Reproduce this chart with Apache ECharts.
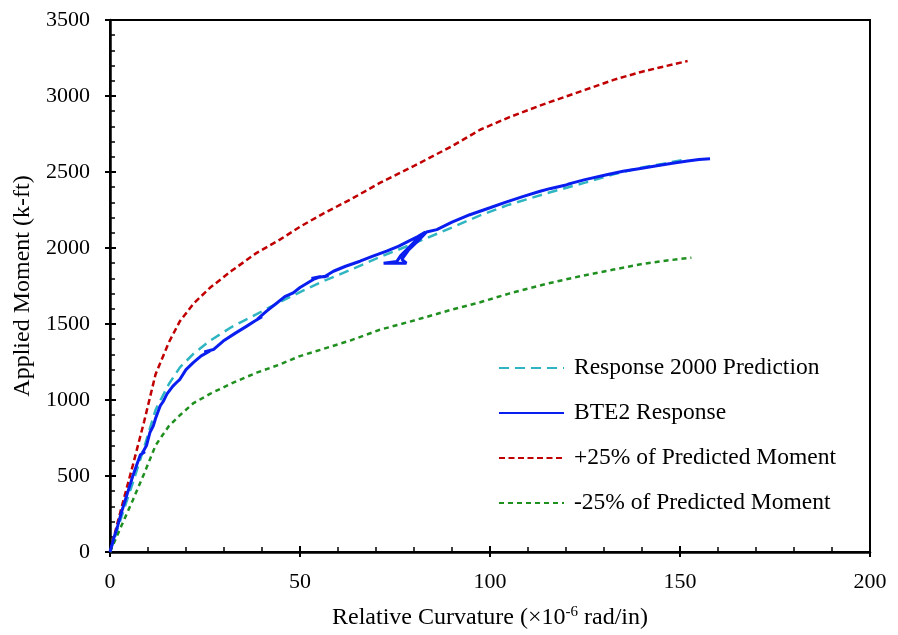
<!DOCTYPE html>
<html>
<head>
<meta charset="utf-8">
<script src="https://cdn.jsdelivr.net/npm/echarts@6/dist/echarts.min.js"></script>
<style>
  html, body { margin: 0; padding: 0; background: #fff; }
  #chart { width: 898px; height: 635px; }
</style>
</head>
<body>
<div id="chart"></div>
<script>
// 曲率 (×10^-6 rad/in) 与弯矩 (k-ft)
const X_TICKS = [0, 50, 100, 150, 200];
const Y_TICKS = [0, 500, 1000, 1500, 2000, 2500, 3000, 3500];

const SERIES_NAMES = [
  "Response 2000 Prediction",
  "BTE2 Response",
  "+25% of Predicted Moment",
  "-25% of Predicted Moment",
];

// Response 2000 预测
const predicted = [
  [0, 0], [3, 230], [6, 455], [9, 690], [12, 935], [13, 985], [15.5, 1105],
  [18.4, 1215], [22, 1305], [26.3, 1390], [32, 1480], [38.6, 1565],
  [44.7, 1645], [50, 1710], [56, 1780], [63.2, 1855], [71, 1940],
  [80, 2030], [90, 2135], [97.4, 2215], [105, 2285], [114.9, 2360],
  [125, 2430], [132.5, 2485], [140, 2530], [145.6, 2555], [152, 2585],
];

// 试验实测（含卸载/再加载小回环）
const measured = [
  [0, 0], [1, 90], [2, 170], [3, 260], [4, 340], [5, 420], [6, 500],
  [7, 570], [8, 640], [9.2, 660], [8.6, 655], [9.6, 700], [10.5, 786],
  [11.4, 830], [12, 880], [13.2, 961], [14, 990], [15, 1040], [16.5, 1090],
  [17.5, 1115], [18.4, 1136], [20, 1200], [21.9, 1246], [24, 1290],
  [26.3, 1322], [24.8, 1316], [27.2, 1332], [29.8, 1388], [33, 1440],
  [36, 1486], [38, 1518], [40, 1548], [38.8, 1532], [41.2, 1585],
  [44, 1640], [46, 1680], [48.2, 1705], [50, 1740], [53.5, 1793],
  [55.5, 1812], [53, 1800], [57.5, 1818], [56.2, 1808], [58.8, 1847],
  [62, 1880], [65.8, 1913], [69, 1945], [72.8, 1979], [76, 2012],
  [79, 2050], [81, 2075], [83, 2105], [80.5, 2050], [78.5, 2000],
  [76.5, 1950], [75.5, 1912], [72, 1900], [78, 1900], [76.8, 1925],
  [78.5, 1985], [81.2, 2050], [83.3, 2105], [86, 2121], [90, 2170],
  [94.7, 2219], [100, 2265], [104, 2300], [108.8, 2340], [113.2, 2373],
  [116, 2392], [120, 2415], [121.5, 2425], [120.5, 2420], [125, 2450],
  [130.7, 2482], [135, 2505], [140, 2525], [143.9, 2541], [148, 2558],
  [152, 2572], [155, 2582], [157.9, 2587],
];

// +25% 预测弯矩
const upper = [
  [0, 0], [3, 290], [6, 570], [9, 860], [12, 1170], [13, 1230], [15.5, 1380],
  [18.4, 1519], [22, 1635], [26.3, 1738], [32, 1850], [38.6, 1968],
  [44.7, 2055], [50, 2140], [56, 2225], [63.2, 2318], [71, 2428],
  [80, 2540], [90, 2670], [97.4, 2778], [105, 2860], [114.9, 2953],
  [125, 3040], [132.5, 3106], [140, 3160], [145.6, 3193], [152, 3230],
];

// -25% 预测弯矩
const lower = [
  [0, 0], [3, 172], [6, 341], [9, 517], [12, 701], [13, 739], [15.5, 829],
  [18.4, 900], [22, 980], [26.3, 1040], [32, 1110], [38.6, 1180],
  [44.7, 1234], [50, 1289], [56, 1335], [63.2, 1391], [71, 1462],
  [80, 1523], [90, 1595], [97.4, 1643], [105, 1700], [114.9, 1765],
  [123.7, 1814], [132.5, 1858], [140, 1895], [145.6, 1915], [153, 1936],
];

const FONT = "'Liberation Serif', 'Times New Roman', serif";
const AXIS_COLOR = "#000";

const chart = echarts.init(document.getElementById("chart"), null, { renderer: "canvas" });

// 只画朝外的主刻度（与主轴的朝内刻度叠成穿轴刻度）
const tickOnlyAxis = (min, max, interval) => ({
  type: "value",
  min: min,
  max: max,
  interval: interval,
  axisLine: { show: false },
  axisTick: { show: true, inside: false, length: 5, lineStyle: { color: AXIS_COLOR, width: 2 } },
  axisLabel: { show: false },
  splitLine: { show: false },
});

chart.setOption({
  animation: false,
  textStyle: { fontFamily: FONT, color: "#000" },
  grid: {
    left: 110, right: 28, top: 20, bottom: 82,
    show: true, borderColor: AXIS_COLOR, borderWidth: 2,
  },
  legend: {
    data: SERIES_NAMES,
    orient: "vertical",
    left: 493,
    top: 351,
    itemWidth: 65,
    itemHeight: 12,
    itemGap: 21,
    itemStyle: { opacity: 0 },
    textStyle: {
      fontFamily: FONT, fontSize: 23.5, color: "#000",
      lineHeight: 24, padding: [0, 0, 0, 5],
    },
  },
  xAxis: [
    {
      type: "value",
      min: X_TICKS[0],
      max: X_TICKS[X_TICKS.length - 1],
      interval: 50,
      position: "bottom",
      name: "{n|Relative Curvature (×10}{s|-6}{n| rad/in)}",
      nameLocation: "middle",
      nameGap: 53,
      nameTextStyle: {
        rich: {
          n: { fontFamily: FONT, fontSize: 24, color: "#000", lineHeight: 26 },
          s: { fontFamily: FONT, fontSize: 15, color: "#000", verticalAlign: "top", lineHeight: 15 },
        },
      },
      axisLine: { show: true, lineStyle: { color: AXIS_COLOR, width: 2.5 } },
      axisTick: { show: true, inside: true, length: 6, lineStyle: { color: AXIS_COLOR, width: 2 } },
      minorTick: { show: true, splitNumber: 5, length: 5, lineStyle: { color: AXIS_COLOR, width: 1.5 } },
      axisLabel: { fontFamily: FONT, fontSize: 22, color: "#000", margin: 19 },
      splitLine: { show: false },
    },
    Object.assign(tickOnlyAxis(0, 200, 50), { position: "bottom" }),
  ],
  yAxis: [
    {
      type: "value",
      min: Y_TICKS[0],
      max: Y_TICKS[Y_TICKS.length - 1],
      interval: 500,
      position: "left",
      name: "Applied Moment (k-ft)",
      nameLocation: "middle",
      nameGap: 69,
      nameTextStyle: { fontFamily: FONT, fontSize: 24, color: "#000" },
      axisLine: { show: true, lineStyle: { color: AXIS_COLOR, width: 2.5 } },
      axisTick: { show: true, inside: true, length: 6, lineStyle: { color: AXIS_COLOR, width: 2 } },
      minorTick: { show: true, splitNumber: 5, length: 5, lineStyle: { color: AXIS_COLOR, width: 1.5 } },
      axisLabel: {
        fontFamily: FONT, fontSize: 22, color: "#000", margin: 20,
        formatter: (v) => String(v),
      },
      splitLine: { show: false },
    },
    Object.assign(tickOnlyAxis(0, 3500, 500), { position: "left" }),
  ],
  series: [
    {
      name: SERIES_NAMES[0], type: "line", data: predicted,
      xAxisIndex: 0, yAxisIndex: 0, symbol: "none", showSymbol: false, z: 2,
      lineStyle: { color: "#2fb5c2", width: 2.5, type: [10, 6] },
      itemStyle: { color: "#2fb5c2" },
    },
    {
      name: SERIES_NAMES[1], type: "line", data: measured,
      xAxisIndex: 0, yAxisIndex: 0, symbol: "none", showSymbol: false, z: 3,
      lineStyle: { color: "#0a1ef0", width: 3 },
      itemStyle: { color: "#0a1ef0" },
    },
    {
      name: SERIES_NAMES[2], type: "line", data: upper,
      xAxisIndex: 0, yAxisIndex: 0, symbol: "none", showSymbol: false, z: 2,
      lineStyle: { color: "#c00000", width: 2.5, type: [6, 3.5] },
      itemStyle: { color: "#c00000" },
    },
    {
      name: SERIES_NAMES[3], type: "line", data: lower,
      xAxisIndex: 0, yAxisIndex: 0, symbol: "none", showSymbol: false, z: 2,
      lineStyle: { color: "#1f8f1f", width: 2.5, type: [5, 4] },
      itemStyle: { color: "#1f8f1f" },
    },
  ],
});
</script>
</body>
</html>
